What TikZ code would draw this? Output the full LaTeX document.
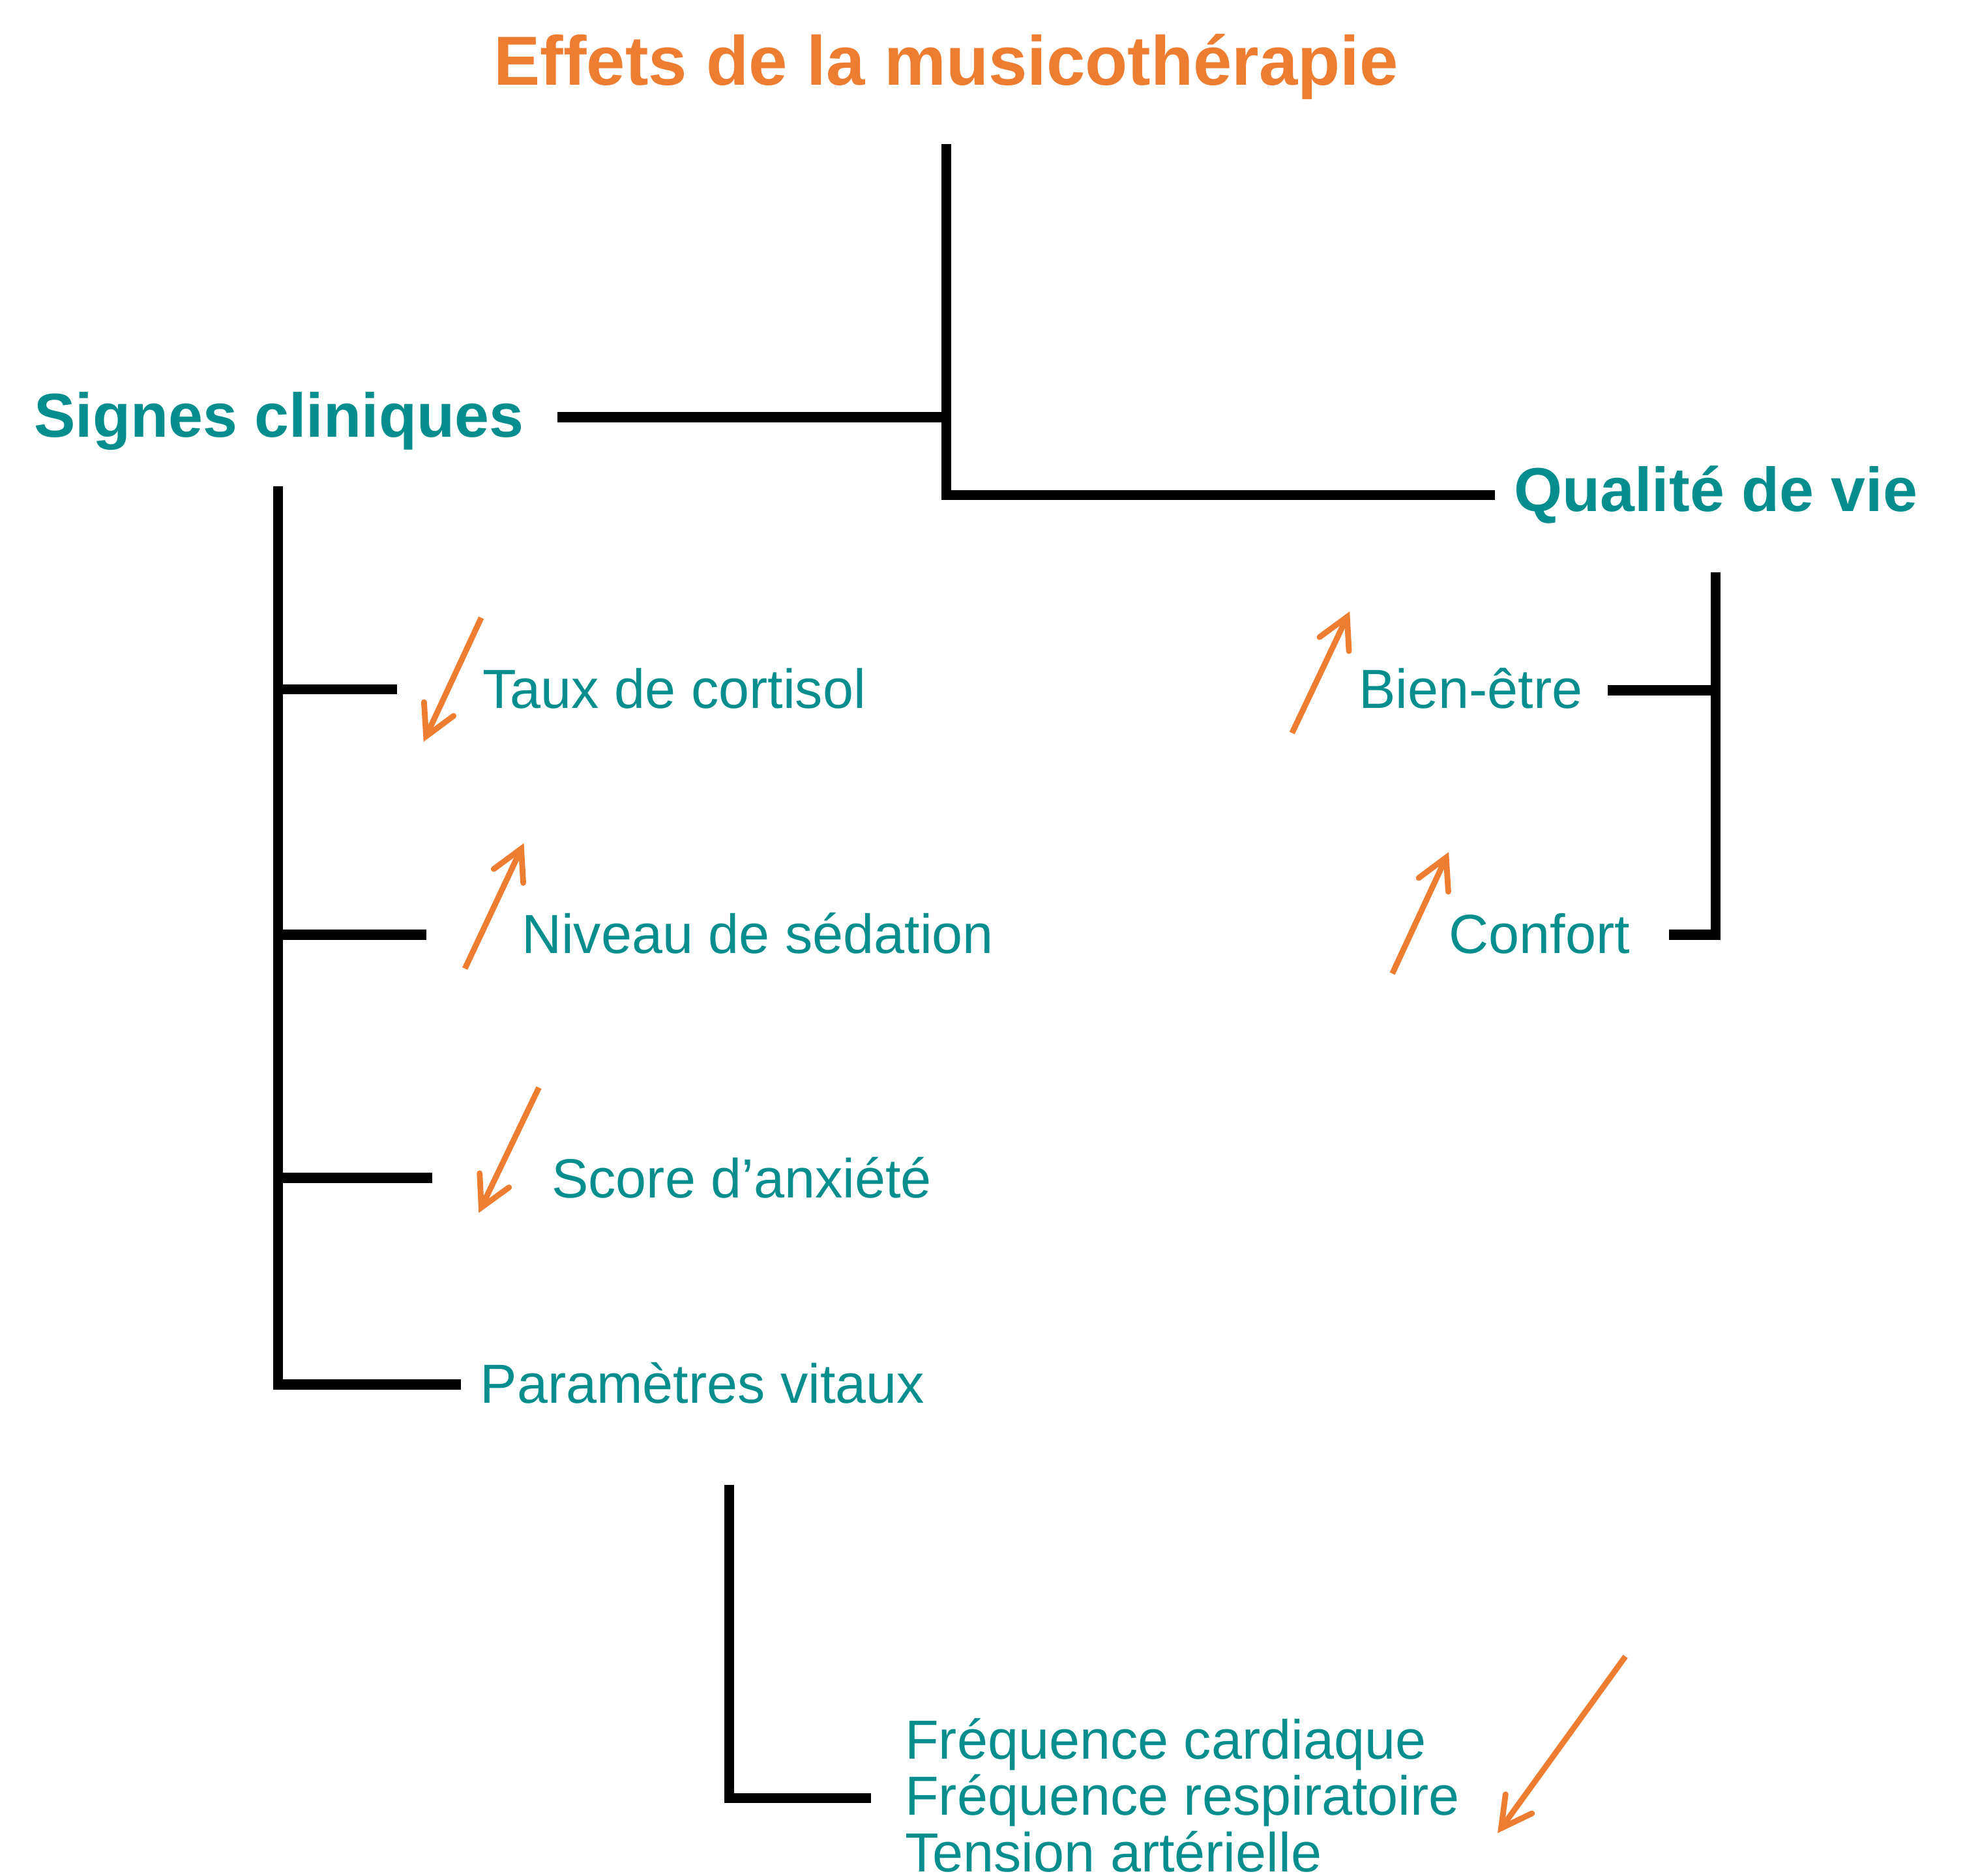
\documentclass[tikz,border=0pt]{standalone}
\usepackage{fontspec}
\setmainfont{Liberation Sans}
\usetikzlibrary{arrows.meta}
\definecolor{sarcelle}{RGB}{6,142,142}
\definecolor{orangemt}{RGB}{237,125,49}
\tikzset{
  trait/.style={line width=8pt},
  fleche/.style={draw=orangemt,line width=4.6pt,-{Straight Barb[length=24pt,width=26pt,line cap=round,line join=miter]}},
  titre/.style={anchor=base,inner sep=0pt,text=orangemt,font=\fontsize{55.5}{60}\selectfont\bfseries},
  rubrique/.style={anchor=base west,inner sep=0pt,text=sarcelle,font=\fontsize{49.5}{54}\selectfont\bfseries},
  item/.style={anchor=base west,inner sep=0pt,text=sarcelle,font=\fontsize{44}{45}\selectfont},
}
\begin{document}
\begin{tikzpicture}[x=1pt,y=-1pt]
\useasboundingbox (0,0) rectangle (1568,1497);
%titre
\node[titre] (titre) at (755,68) {Effets de la musicothérapie};
%rubriques
\node[rubrique] (signes) at (27,349) {Signes cliniques};
\node[rubrique] (qualite) at (1208,408) {Qualité de vie};
%signes cliniques
\node[item] (cortisol) at (385,565) {Taux de cortisol};
\node[item] (sedation) at (416,761) {Niveau de sédation};
\node[item] (anxiete) at (440,956) {Score d’anxiété};
\node[item] (vitaux) at (383,1120) {Paramètres vitaux};
\node[item,anchor=north west,align=left] (freq) at (722,1371)
  {Fréquence cardiaque\\Fréquence respiratoire\\Tension artérielle};
%qualite de vie
\node[item] (bienetre) at (1084,565) {Bien-être};
\node[item] (confort) at (1156,761) {Confort};
%accolades
\coordinate (t1) at (755,115);
\coordinate (t2) at (755,395);
\coordinate (t3) at (1193,395);
\coordinate (t4) at (445,333);
\coordinate (t5) at (755,333);
\draw[trait] (t1) -- (t2) -- (t3);
\draw[trait] (t4) -- (t5);
\coordinate (s0) at (222,388);
\coordinate (s1) at (222,1105);
\coordinate (s2) at (368,1105);
\draw[trait] (s0) -- (s1) -- (s2);
\foreach \y/\l in {550/317,746/340,940/345}
{\draw[trait] (222,\y) -- (\l,\y);}
\coordinate (q0) at (1369,457);
\coordinate (q1) at (1369,746);
\coordinate (q2) at (1332,746);
\coordinate (q3) at (1283,551);
\coordinate (q4) at (1369,551);
\draw[trait] (q0) -- (q1) -- (q2);
\draw[trait] (q3) -- (q4);
\coordinate (v0) at (582,1185);
\coordinate (v1) at (582,1435);
\coordinate (v2) at (695,1435);
\draw[trait] (v0) -- (v1) -- (v2);
%fleches
\foreach \xa/\ya/\xb/\yb in {384/493/338/592,371/773/418/673,430/868/382/968,1031/585/1077/488,1111/777/1156/680,1297/1322/1195/1463}
{\draw[fleche] (\xa,\ya) -- (\xb,\yb);}
\end{tikzpicture}
\end{document}
